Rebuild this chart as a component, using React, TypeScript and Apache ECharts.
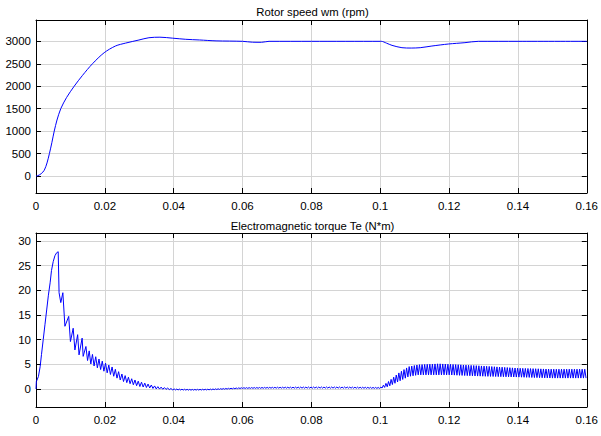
import React, { useEffect, useRef } from "react";
import * as echarts from "echarts";

// ---- Rotor speed (rpm) ----
const speedT = [0, 0.0005, 0.0015, 0.0024, 0.0032, 0.0039, 0.0046, 0.0053, 0.0061, 0.0072, 0.0089, 0.0111, 0.0135, 0.0164, 0.0198, 0.0231, 0.026, 0.0299, 0.0328, 0.036, 0.0397, 0.0435, 0.0475, 0.0523, 0.06, 0.0629, 0.0655, 0.0677, 0.08, 0.1, 0.1003, 0.1018, 0.1034, 0.1063, 0.109, 0.1116, 0.115, 0.1198, 0.1246, 0.1285, 0.14, 0.16];
const speedV = [0, 5, 50, 127, 290, 500, 740, 1000, 1246, 1500, 1750, 2000, 2240, 2500, 2746, 2896, 2960, 3029, 3080, 3092, 3070, 3045, 3030, 3010, 3000, 2980, 2978, 3000, 3000, 3000, 3000, 2960, 2910, 2858, 2850, 2858, 2895, 2940, 2970, 3000, 3000, 3000];

// ---- Electromagnetic torque (N*m): start-up transient points ----
const torqueStartT = [0, 0.0001, 0.0003, 0.0007, 0.0012, 0.0016, 0.0021, 0.0026, 0.0031, 0.0036, 0.0041, 0.0045, 0.005, 0.0055, 0.006, 0.00645, 0.0067, 0.0072, 0.0078, 0.0084, 0.0095, 0.01, 0.0108, 0.0113, 0.0121, 0.0125, 0.0134, 0.0137];
const torqueStartV = [0, 1.5, 1.5, 2.5, 4.5, 7.0, 10.0, 13.0, 16.0, 19.0, 21.5, 24.0, 25.8, 27.0, 27.6, 27.8, 19.5, 17.5, 19.5, 12.7, 14.7, 9.6, 12.3, 7.9, 11.0, 6.9, 10.3, 6.6];

// ---- Electromagnetic torque: ripple envelope (upper / lower) ----
const torqueEnvT = [0.0145, 0.016, 0.018, 0.02, 0.022, 0.025, 0.028, 0.03, 0.033, 0.035, 0.038, 0.04, 0.045, 0.05, 0.055, 0.06, 0.07, 0.08, 0.09, 0.1, 0.1024, 0.1053, 0.1082, 0.111, 0.117, 0.12, 0.1285, 0.14, 0.15, 0.16];
const torqueEnvHi = [8.6, 7.2, 6.2, 5.3, 4.5, 3.0, 2.0, 1.5, 0.9, 0.5, 0.2, 0.0, -0.1, -0.05, 0.1, 0.25, 0.35, 0.4, 0.4, 0.3, 1.5, 3.2, 4.5, 4.9, 5.1, 5.0, 4.7, 4.2, 4.0, 4.0];
const torqueEnvLo = [6.1, 5.0, 4.2, 3.5, 2.8, 1.6, 0.9, 0.5, 0.2, 0.0, -0.1, -0.2, -0.25, -0.2, -0.05, 0.1, 0.15, 0.15, 0.15, 0.1, 0.5, 1.5, 2.5, 2.85, 2.85, 2.85, 2.6, 2.4, 2.2, 2.2];
const ripplePeriodEarly = 0.00095;
const ripplePeriodLate = 0.00075;

const xTicks = { min: 0, max: 0.16, interval: 0.02 };
const speedRange = { min: -380, max: 3475, splitNumber: 8 };
const torqueRange = { min: -3.66, max: 31.6, splitNumber: 7 };

const titles = ["Rotor speed wm (rpm)", "Electromagnetic torque Te (N*m)"];

function envAt(t: number): [number, number] {
  const n = torqueEnvT.length;
  if (t <= torqueEnvT[0]) return [torqueEnvHi[0], torqueEnvLo[0]];
  for (let i = 1; i < n; i++) {
    if (t <= torqueEnvT[i]) {
      const f = (t - torqueEnvT[i - 1]) / (torqueEnvT[i] - torqueEnvT[i - 1]);
      return [
        torqueEnvHi[i - 1] + f * (torqueEnvHi[i] - torqueEnvHi[i - 1]),
        torqueEnvLo[i - 1] + f * (torqueEnvLo[i] - torqueEnvLo[i - 1]),
      ];
    }
  }
  return [torqueEnvHi[n - 1], torqueEnvLo[n - 1]];
}

function buildTorque(): [number, number][] {
  const out: [number, number][] = torqueStartT.map((t, i) => [t, torqueStartV[i]]);
  let t = torqueEnvT[0];
  let hi = true;
  const end = torqueEnvT[torqueEnvT.length - 1];
  while (t <= end + 1e-9) {
    const [h, l] = envAt(t);
    out.push([t, hi ? h : l]);
    t += (t < 0.04 ? ripplePeriodEarly : ripplePeriodLate) / 2;
    hi = !hi;
  }
  return out;
}

const FONT = "'Liberation Sans', Arial, sans-serif";
const fmt = (v: number) => String(parseFloat(v.toFixed(6)));

export default function App() {
  const ref = useRef<HTMLDivElement>(null);
  useEffect(() => {
    if (!ref.current) return;
    const chart = echarts.init(ref.current, undefined, { renderer: "svg" });
    const grids = [
      { left: 36, top: 20, width: 553, height: 173 },
      { left: 36, top: 233, width: 553, height: 174 },
    ];
    const tick = { show: true, inside: true, length: 5, lineStyle: { color: "#000", width: 1 } };
    const axisLine = { show: true, onZero: false, lineStyle: { color: "#000", width: 1 } };
    const split = { show: true, lineStyle: { color: "#d4d4d4", width: 1 } };
    const label = { color: "#000", fontSize: 11.5, fontFamily: FONT };
    const xAxes: any[] = [];
    const yAxes: any[] = [];
    [0, 1].forEach((g) => {
      xAxes.push({
        gridIndex: g, type: "value", position: "bottom", ...xTicks,
        axisLine, axisTick: tick, splitLine: split,
        axisLabel: { ...label, margin: 7, formatter: fmt },
      });
      xAxes.push({
        gridIndex: g, type: "value", position: "top", ...xTicks,
        axisLine, axisTick: tick, splitLine: { show: false }, axisLabel: { show: false },
      });
      const r = g === 0 ? speedRange : torqueRange;
      yAxes.push({
        gridIndex: g, type: "value", position: "left", ...r,
        axisLine, axisTick: tick, splitLine: split,
        axisLabel: { ...label, margin: 5, showMinLabel: false, showMaxLabel: false, formatter: fmt },
      });
      yAxes.push({
        gridIndex: g, type: "value", position: "right", ...r,
        axisLine, axisTick: tick, splitLine: { show: false }, axisLabel: { show: false },
      });
    });
    chart.setOption({
      animation: false,
      backgroundColor: "#fff",
      grid: grids,
      xAxis: xAxes,
      yAxis: yAxes,
      graphic: titles.map((txt, i) => ({
        type: "text",
        x: 312.5,
        y: i === 0 ? 12 : 225.5,
        style: { text: txt, fill: "#000", font: `11.3px ${FONT}`, textAlign: "center", textVerticalAlign: "middle" },
      })),
      series: [
        {
          type: "line", xAxisIndex: 0, yAxisIndex: 0, showSymbol: false, symbol: "none",
          smooth: 0.3,
          data: speedT.map((t, i) => [t, speedV[i]]),
          lineStyle: { color: "#0000ff", width: 1 }, silent: true,
        },
        {
          type: "line", xAxisIndex: 2, yAxisIndex: 2, showSymbol: false, symbol: "none",
          data: buildTorque(),
          lineStyle: { color: "#0000ff", width: 1 }, silent: true,
        },
      ],
    });
    return () => chart.dispose();
  }, []);
  return (
    <div
      ref={ref}
      style={{ position: "absolute", left: 0, top: 0, width: 601, height: 436, background: "#fff" }}
    />
  );
}
